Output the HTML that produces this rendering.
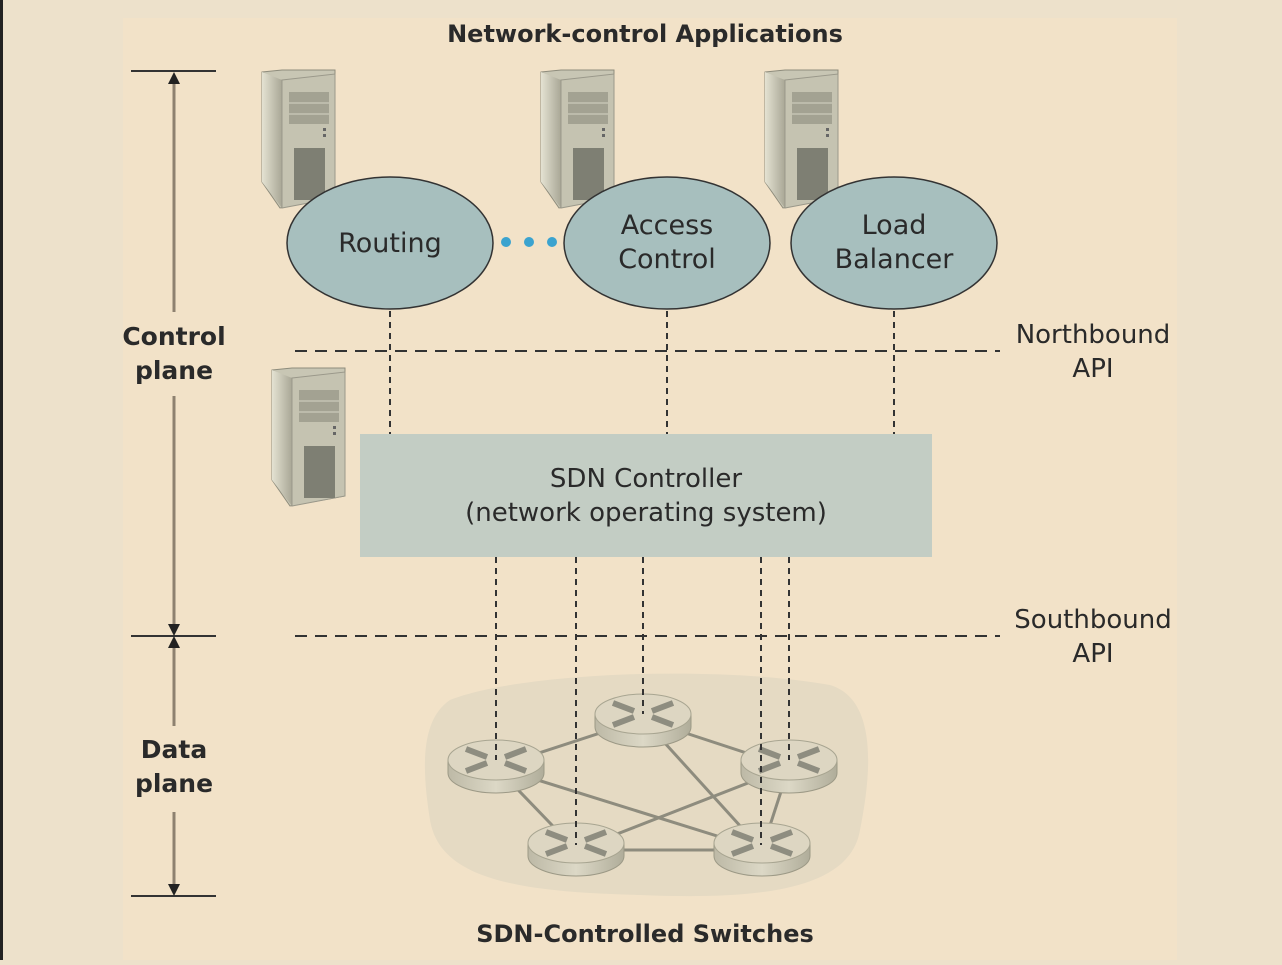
<!DOCTYPE html>
<html><head><style>
body{margin:0;width:1282px;height:960px;overflow:hidden;background:#ede1cb;}
svg text{font-family:"DejaVu Sans","Liberation Sans",sans-serif;fill:#2a2a2a;}
</style></head><body>
<svg width="1282" height="960" viewBox="0 0 1282 960" xmlns="http://www.w3.org/2000/svg">
<defs>
<linearGradient id="srv" x1="0" x2="1"><stop offset="0" stop-color="#e4e2d2"/><stop offset="1" stop-color="#a9a796"/></linearGradient>
<linearGradient id="rt" x1="0" x2="1"><stop offset="0" stop-color="#bdb9a6"/><stop offset="0.5" stop-color="#dcd8c6"/><stop offset="1" stop-color="#b0ad9a"/></linearGradient>
<g id="server">
<path d="M0,2 L20,0 L73,0 L73,128 L18,138 L0,112 Z" fill="#c8c6b4" stroke="#8e8c7c"/>
<path d="M0,2 L20,10 L20,138 L0,112 Z" fill="url(#srv)"/>
<path d="M20,10 L73,4 L73,128 L20,138 Z" fill="#c5c3b1" stroke="#9a988a"/>
<rect x="27" y="22" width="40" height="32" fill="#a3a292"/>
<line x1="27" y1="33" x2="67" y2="33" stroke="#d6d4c4"/><line x1="27" y1="44" x2="67" y2="44" stroke="#d6d4c4"/>
<rect x="61" y="58" width="3" height="3" fill="#666"/><rect x="61" y="64" width="3" height="3" fill="#666"/>
<rect x="32" y="78" width="31" height="52" fill="#7e7f73"/>
</g>
<g id="router">
<path d="M-48,0 L-48,13 A48,20 0 0 0 48,13 L48,0 Z" fill="url(#rt)" stroke="#9c9986"/>
<ellipse cx="0" cy="0" rx="48" ry="20" fill="#ddd6c2" stroke="#a8a591"/>
<g stroke="#8e8d80" stroke-width="6"><line x1="-30" y1="-11" x2="-9" y2="-3"/><line x1="9" y1="3" x2="30" y2="11"/><line x1="30" y1="-11" x2="9" y2="-3"/><line x1="-9" y1="3" x2="-30" y2="11"/></g>
</g>
</defs>
<rect x="0" y="0" width="3" height="960" fill="#222"/>
<rect x="123" y="18" width="1054" height="942" fill="#f2e2c8"/>
<text x="645" y="42" text-anchor="middle" font-size="24" font-weight="bold">Network-control Applications</text>
<g stroke="#333" stroke-width="2">
<line x1="131" y1="71" x2="216" y2="71"/><line x1="131" y1="636" x2="216" y2="636"/><line x1="131" y1="896" x2="216" y2="896"/>
</g>
<g stroke="#8e8170" stroke-width="3">
<line x1="174" y1="80" x2="174" y2="312"/><line x1="174" y1="396" x2="174" y2="628"/>
<line x1="174" y1="646" x2="174" y2="726"/><line x1="174" y1="812" x2="174" y2="888"/>
</g>
<g fill="#222"><path d="M168,84 L174,72 L180,84Z"/><path d="M168,624 L174,636 L180,624Z"/><path d="M168,648 L174,636 L180,648Z"/><path d="M168,884 L174,896 L180,884Z"/></g>
<text x="174" y="345" text-anchor="middle" font-size="25" font-weight="bold">Control</text>
<text x="174" y="379" text-anchor="middle" font-size="25" font-weight="bold">plane</text>
<text x="174" y="758" text-anchor="middle" font-size="25" font-weight="bold">Data</text>
<text x="174" y="792" text-anchor="middle" font-size="25" font-weight="bold">plane</text>
<use href="#server" x="262" y="70"/><use href="#server" x="541" y="70"/><use href="#server" x="765" y="70"/><use href="#server" x="272" y="368"/>
<g fill="#a7bfbe" stroke="#333" stroke-width="1.5">
<ellipse cx="390" cy="243" rx="103" ry="66"/><ellipse cx="667" cy="243" rx="103" ry="66"/><ellipse cx="894" cy="243" rx="103" ry="66"/>
</g>
<g font-size="27" text-anchor="middle">
<text x="390" y="252">Routing</text>
<text x="667" y="234">Access</text><text x="667" y="268">Control</text>
<text x="894" y="234">Load</text><text x="894" y="268">Balancer</text>
</g>
<g fill="#3ba3cf"><circle cx="506" cy="242" r="5"/><circle cx="529" cy="242" r="5"/><circle cx="552" cy="242" r="5"/></g>
<g stroke="#333" stroke-width="2" stroke-dasharray="12,8" fill="none">
<line x1="295" y1="351" x2="1000" y2="351"/><line x1="295" y1="636" x2="1000" y2="636"/>
</g>
<g stroke="#333" stroke-width="2" stroke-dasharray="6,5">
<line x1="390" y1="311" x2="390" y2="434"/><line x1="667" y1="311" x2="667" y2="434"/><line x1="894" y1="311" x2="894" y2="434"/>
</g>
<text x="1093" y="343" text-anchor="middle" font-size="26">Northbound</text><text x="1093" y="377" text-anchor="middle" font-size="26">API</text>
<text x="1093" y="628" text-anchor="middle" font-size="26">Southbound</text><text x="1093" y="662" text-anchor="middle" font-size="26">API</text>
<rect x="360" y="434" width="572" height="123" fill="#c3cdc4"/>
<text x="646" y="487" text-anchor="middle" font-size="26">SDN Controller</text>
<text x="646" y="521" text-anchor="middle" font-size="26">(network operating system)</text>
<path d="M450,700 C520,672 720,665 830,685 C880,700 870,780 860,830 C850,890 760,900 640,895 C520,892 440,880 430,820 C422,770 420,720 450,700Z" fill="#e5dac3"/>
<g stroke="#8e8c7e" stroke-width="3">
<line x1="496" y1="767" x2="643" y2="719"/><line x1="643" y1="719" x2="789" y2="767"/><line x1="643" y1="719" x2="762" y2="850"/>
<line x1="496" y1="767" x2="576" y2="850"/><line x1="496" y1="767" x2="762" y2="850"/><line x1="789" y1="767" x2="576" y2="850"/>
<line x1="789" y1="767" x2="762" y2="850"/><line x1="576" y1="850" x2="762" y2="850"/>
</g>
<use href="#router" x="496" y="760"/><use href="#router" x="643" y="714"/><use href="#router" x="789" y="760"/>
<use href="#router" x="576" y="843"/><use href="#router" x="762" y="843"/>
<g stroke="#333" stroke-width="2" stroke-dasharray="6,5">
<line x1="496" y1="557" x2="496" y2="760"/><line x1="576" y1="557" x2="576" y2="845"/><line x1="643" y1="557" x2="643" y2="714"/>
<line x1="761" y1="557" x2="761" y2="845"/><line x1="789" y1="557" x2="789" y2="760"/>
</g>
<text x="645" y="942" text-anchor="middle" font-size="24" font-weight="bold">SDN-Controlled Switches</text>
</svg>
</body></html>
